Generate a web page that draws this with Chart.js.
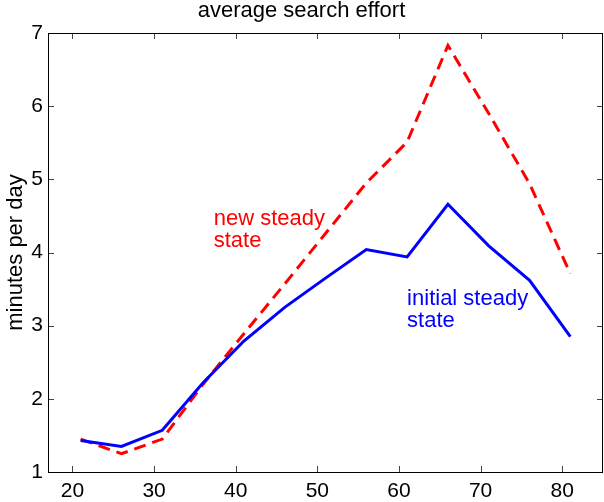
<!DOCTYPE html>
<html>
<head>
<meta charset="utf-8">
<script src="https://cdn.jsdelivr.net/npm/chart.js@4"></script>
<style>
  html, body { margin: 0; padding: 0; background: #fff; }
  #wrap { width: 604px; height: 502px; }
</style>
</head>
<body>
<div id="wrap"><canvas id="myChart" width="604" height="502"></canvas></div>
<script>
// age of the searcher
const ages = [21, 26, 31, 36, 41, 46, 51, 56, 61, 66, 71, 76, 81];
// minutes per day
const initialState = [1.43, 1.35, 1.57, 2.22, 2.79, 3.25, 3.65, 4.04, 3.94, 4.66, 4.09, 3.62, 2.85];
const newState = [1.45, 1.25, 1.45, 2.2, 2.89, 3.57, 4.26, 4.95, 5.51, 6.83, 5.9, 4.94, 3.71];
const xTicks = [20, 30, 40, 50, 60, 70, 80];
const yTicks = [1, 2, 3, 4, 5, 6, 7];

const fontName = "'Liberation Sans', Arial, Helvetica, sans-serif";

function pts(ys) {
    return ages.map((a, i) => ({ x: a, y: ys[i] }));
}

// matlab style box with ticks pointing inwards, plus the two text labels
const boxPlugin = {
    id: 'box',
    afterDraw(chart) {
        const ctx = chart.ctx;
        const a = chart.chartArea;
        const xs = chart.scales.x, ys = chart.scales.y;
        const len = 6;
        ctx.save();
        ctx.strokeStyle = '#444';
        ctx.lineWidth = 1;
        ctx.beginPath();
        xTicks.forEach(v => {
            const px = Math.round(xs.getPixelForValue(v)) + 0.5;
            ctx.moveTo(px, a.bottom); ctx.lineTo(px, a.bottom - len);
            ctx.moveTo(px, a.top); ctx.lineTo(px, a.top + len);
        });
        yTicks.forEach(v => {
            const py = Math.round(ys.getPixelForValue(v)) + 0.5;
            ctx.moveTo(a.left, py); ctx.lineTo(a.left + len, py);
            ctx.moveTo(a.right, py); ctx.lineTo(a.right - len, py);
        });
        ctx.stroke();
        ctx.strokeStyle = '#000';
        ctx.strokeRect(Math.round(a.left) + 0.5, Math.round(a.top) + 0.5,
            Math.round(a.right - a.left) - 1, Math.round(a.bottom - a.top));

        ctx.font = '22px ' + fontName;
        ctx.textAlign = 'left';
        ctx.textBaseline = 'alphabetic';
        ctx.fillStyle = '#ff0000';
        let px = xs.getPixelForValue(37.3), py = ys.getPixelForValue(4.38);
        ctx.fillText('new steady', px, py);
        ctx.fillText('state', px, py + 22);
        ctx.fillStyle = '#0000ff';
        px = xs.getPixelForValue(61.0); py = ys.getPixelForValue(3.28);
        ctx.fillText('initial steady', px, py);
        ctx.fillText('state', px, py + 22);
        ctx.restore();
    }
};

new Chart('myChart', {
    type: 'line',
    data: {
        datasets: [{
            label: 'initial steady state',
            data: pts(initialState),
            borderColor: '#0000ff',
            borderWidth: 3,
            pointRadius: 0,
            tension: 0
        }, {
            label: 'new steady state',
            data: pts(newState),
            borderColor: '#ff0000',
            borderWidth: 3,
            borderDash: [12, 7],
            pointRadius: 0,
            tension: 0
        }]
    },
    options: {
        responsive: false,
        animation: false,
        layout: { padding: { left: 0, right: 1, top: 0, bottom: 0 } },
        plugins: {
            legend: { display: false },
            tooltip: { enabled: false },
            title: {
                display: true,
                text: 'average search effort',
                color: '#000',
                font: { family: fontName, size: 22, weight: 'normal', lineHeight: 1 },
                padding: { top: 0, bottom: 11 }
            }
        },
        scales: {
            x: {
                type: 'linear',
                min: 17,
                max: 85,
                afterBuildTicks: s => { s.ticks = xTicks.map(v => ({ value: v })); },
                afterFit: s => { s.height = 30; },
                grid: { display: false, drawTicks: false },
                border: { display: false },
                ticks: {
                    color: '#000',
                    padding: 7,
                    maxRotation: 0,
                    font: { family: fontName, size: 21 }
                }
            },
            y: {
                min: 1,
                max: 7,
                afterBuildTicks: s => { s.ticks = yTicks.map(v => ({ value: v })); },
                afterFit: s => { s.width = 48; },
                grid: { display: false, drawTicks: false },
                border: { display: false },
                ticks: {
                    color: '#000',
                    padding: 5,
                    font: { family: fontName, size: 21 }
                },
                title: {
                    display: true,
                    text: 'minutes per day',
                    color: '#000',
                    font: { family: fontName, size: 22 },
                    padding: { top: 3, bottom: 0 }
                }
            }
        }
    },
    plugins: [boxPlugin]
});
</script>
</body>
</html>
